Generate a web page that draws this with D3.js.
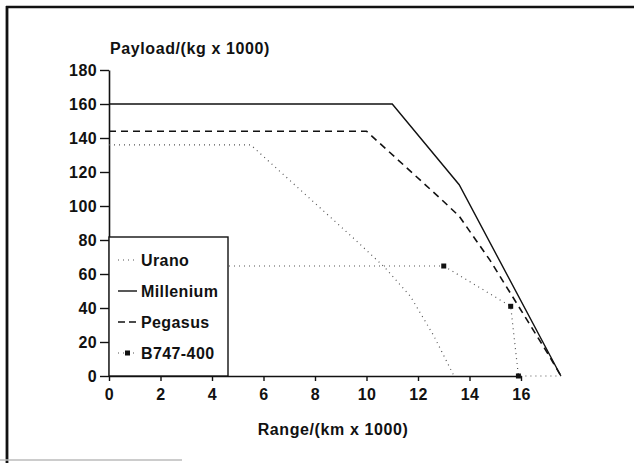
<!DOCTYPE html>
<html>
<head>
<meta charset="utf-8">
<script src="https://cdn.jsdelivr.net/npm/d3@7"></script>
<style>
  body { margin: 0; background: #fff; }
  text { font-family: "Liberation Sans", Arial, sans-serif; font-weight: bold; fill: #111; }
</style>
</head>
<body>
<div id="chart"></div>
<script>
// payload-range data (range in 1000 km, payload in 1000 kg)
var uranoRange     = [0, 5.5, 9.5, 10.7, 11.7, 12.6, 13.4];
var uranoPayload   = [136, 136, 81, 64, 47, 24, 0];
var milleniumRange   = [0, 11.0, 13.6, 17.55];
var milleniumPayload = [160, 160, 112.5, 0];
var pegasusRange   = [0, 10.0, 12.9, 13.6, 14.8, 17.05, 17.55];
var pegasusPayload = [144, 144, 104, 94, 68, 13, 0];
var b747Range   = [0, 13.0, 15.6, 15.9, 17.55];
var b747Payload = [64.7, 64.7, 41, 0, 0];
var b747Marked  = [false, true, true, true, false];

var seriesNames = ["Urano", "Millenium", "Pegasus", "B747-400"];
var xTicks = [0, 2, 4, 6, 8, 10, 12, 14, 16];
var yTicks = [0, 20, 40, 60, 80, 100, 120, 140, 160, 180];

var width = 634, height = 471;
var margin = {left: 109, right: 113, top: 70, bottom: 95};

var svg = d3.select("#chart")
  .append("svg")
  .attr("width", width)
  .attr("height", height);

// frame round the figure
svg.append("line").attr("x1", 6).attr("y1", 7).attr("x2", 634).attr("y2", 7)
  .attr("stroke", "#111").attr("stroke-width", 2.6);
svg.append("line").attr("x1", 7).attr("y1", 6).attr("x2", 7).attr("y2", 463)
  .attr("stroke", "#111").attr("stroke-width", 2.8);
svg.append("line").attr("x1", 0).attr("y1", 460).attr("x2", 182).attr("y2", 460)
  .attr("stroke", "#bbb").attr("stroke-width", 1.5);

var x = d3.scaleLinear().domain([0, 16]).range([margin.left, width - margin.right]);
var y = d3.scaleLinear().domain([0, 180]).range([height - margin.bottom, margin.top]);

// y axis
var gy = svg.append("g")
  .attr("transform", "translate(" + margin.left + ",0)")
  .call(d3.axisLeft(y).tickValues(yTicks).tickSize(9).tickSizeOuter(0).tickPadding(3));
gy.selectAll("text").style("font-size", "16px").style("letter-spacing", "0.4px");

// x axis
var gx = svg.append("g")
  .attr("transform", "translate(0," + y(0) + ")")
  .call(d3.axisBottom(x).tickValues(xTicks).tickSize(5).tickSizeOuter(0).tickPadding(8));
gx.selectAll("text").style("font-size", "16px").style("letter-spacing", "0.4px");

svg.selectAll(".domain").attr("stroke", "#111").attr("stroke-width", 1.6);
svg.selectAll(".tick line").attr("stroke", "#111").attr("stroke-width", 1.4);

// axis titles
svg.append("text")
  .attr("x", 110).attr("y", 54)
  .style("font-size", "16px").style("letter-spacing", "0.6px")
  .text("Payload/(kg x 1000)");
svg.append("text")
  .attr("x", 333).attr("y", 435)
  .attr("text-anchor", "middle")
  .style("font-size", "16px").style("letter-spacing", "0.6px")
  .text("Range/(km x 1000)");

var line = d3.line()
  .x(function(d) { return x(d[0]); })
  .y(function(d) { return y(d[1]); });

var series = [
  {name: "Urano", pts: d3.zip(uranoRange, uranoPayload), color: "#555", width: 1.2, dash: "1,4"},
  {name: "Millenium", pts: d3.zip(milleniumRange, milleniumPayload), color: "#111", width: 1.4, dash: null},
  {name: "Pegasus", pts: d3.zip(pegasusRange, pegasusPayload), color: "#111", width: 1.6, dash: "7,5"},
  {name: "B747-400", pts: d3.zip(b747Range, b747Payload), color: "#555", width: 1.2, dash: "1,4"}
];

series.forEach(function(s) {
  svg.append("path")
    .datum(s.pts)
    .attr("fill", "none")
    .attr("stroke", s.color)
    .attr("stroke-width", s.width)
    .attr("stroke-dasharray", s.dash)
    .attr("d", line);
});

// B747 markers
svg.append("g")
  .selectAll("rect")
  .data(d3.zip(b747Range, b747Payload).filter(function(d, i) { return b747Marked[i]; }))
  .enter()
  .append("rect")
  .attr("x", function(d) { return x(d[0]) - 2.5; })
  .attr("y", function(d) { return y(d[1]) - 2.5; })
  .attr("width", 5)
  .attr("height", 5)
  .attr("fill", "#111");

// legend
var lg = svg.append("g");
lg.append("rect")
  .attr("x", x(0)).attr("y", 237)
  .attr("width", 119).attr("height", y(0) - 237)
  .attr("fill", "#fff").attr("stroke", "#111").attr("stroke-width", 1.4);

var legendY = [262, 293, 324, 355];
seriesNames.forEach(function(name, i) {
  var s = series[i];
  var ly = legendY[i];
  lg.append("line")
    .attr("x1", 118).attr("x2", 137).attr("y1", ly - 2).attr("y2", ly - 2)
    .attr("stroke", s.color).attr("stroke-width", s.width)
    .attr("stroke-dasharray", i == 2 ? "7,4" : s.dash);
  if (i == 3) {
    lg.append("rect").attr("x", 125).attr("y", ly - 4.5).attr("width", 5).attr("height", 5).attr("fill", "#111");
  }
  lg.append("text")
    .attr("x", 141).attr("y", ly + 4)
    .style("font-size", "16px").style("letter-spacing", "0.4px")
    .text(name);
});
</script>
</body>
</html>
